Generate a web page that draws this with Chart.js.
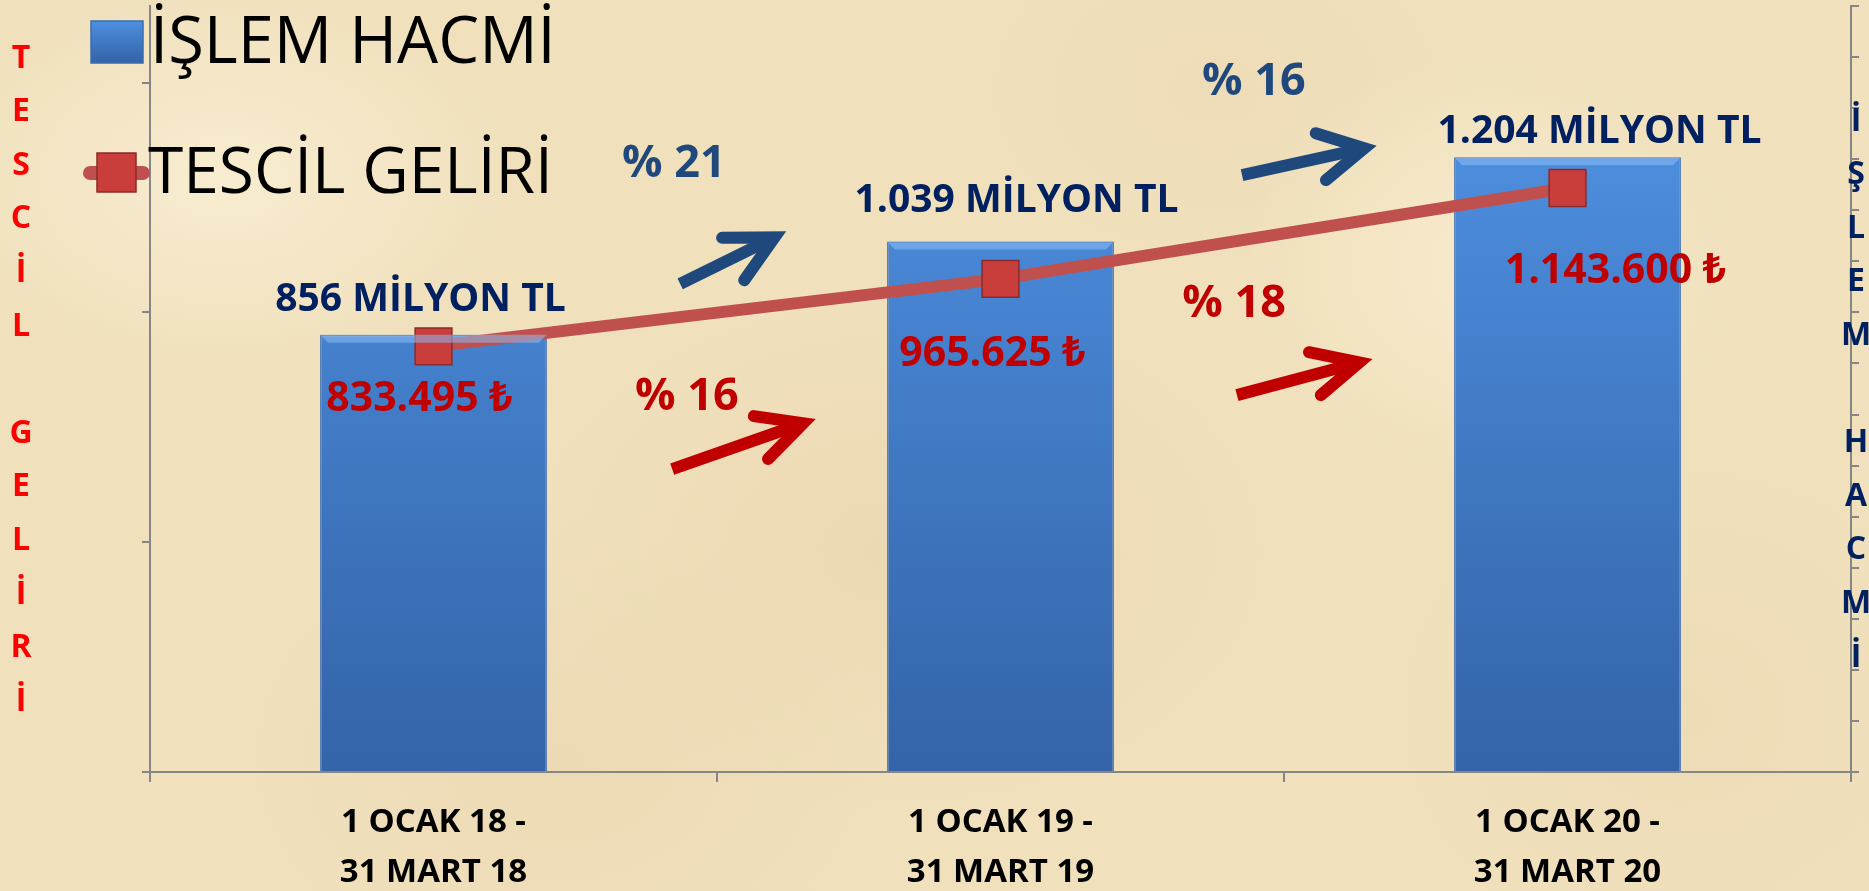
<!DOCTYPE html>
<html lang="tr">
<head>
<meta charset="utf-8">
<title>İşlem Hacmi ve Tescil Geliri</title>
<script src="https://cdn.jsdelivr.net/npm/chart.js@4.4.1/dist/chart.umd.min.js"></script>
<style>
    html, body { margin: 0; padding: 0; }
    body { background: #efdeb8; }
    #wrap {
        position: relative;
        width: 1869px;
        height: 891px;
        background-color: #f0e0bc;
        background-image:
            radial-gradient(ellipse 300px 200px at 12% 20%, rgba(255, 247, 226, 0.55), transparent),
            radial-gradient(ellipse 380px 260px at 48% 62%, rgba(226, 204, 160, 0.35), transparent),
            radial-gradient(ellipse 260px 220px at 80% 30%, rgba(255, 246, 222, 0.5), transparent),
            radial-gradient(ellipse 320px 240px at 30% 85%, rgba(228, 207, 165, 0.35), transparent),
            radial-gradient(ellipse 300px 260px at 90% 80%, rgba(230, 210, 168, 0.3), transparent),
            radial-gradient(ellipse 240px 180px at 65% 10%, rgba(232, 212, 172, 0.3), transparent);
    }
</style>
</head>
<body>
<div id="wrap"><canvas id="chart"></canvas></div>
<script>
// --- data ---
const periods = [['1 OCAK 18 -', '31 MART 18'], ['1 OCAK 19 -', '31 MART 19'], ['1 OCAK 20 -', '31 MART 20']];
const islemHacmi = [856, 1039, 1204];            // milyon TL
const tescilGeliri = [833495, 965625, 1143600];   // TL
const hacimArtis = [21, 16];                      // % change between periods
const gelirArtis = [16, 18];

// axis ranges (tick labels are hidden on the slide, only the marks show)
const gelirMax = 1500000, gelirStep = 450000;
const hacimMax = 1500, hacimStep = 100;

const NAVY = '#002060';
const BLUE_NOTE = '#1F497D';
const RED_NOTE = '#C00000';
const LINE_RED = '#C0504D';
const AXIS_GREY = '#868686';
const FONT = '"Open Sans", "Noto Sans", sans-serif';

// hand placed label shifts (px), like the moved labels in the original slide
const barLabelShift = [[-13, -24], [16, -29], [32, -14]];
const lineLabelShift = [[-14, 65], [-8, 87], [48, 95]];

// arrow + percent note placement in scale units (x: category index, y: right axis)
const hacimNotes = [
    { text: [0.424, 1165], tail: [0.435, 956], tip: [0.611, 1052], arms: [[0.509, 1046], [0.548, 963]] },
    { text: [1.447, 1326], tail: [1.426, 1169], tip: [1.652, 1224], arms: [[1.556, 1251], [1.574, 1159]] }
];
const gelirNotes = [
    { text: [0.447, 709], tail: [0.421, 593], tip: [0.662, 687], arms: [[0.565, 697], [0.590, 613]] },
    { text: [1.412, 891], tail: [1.417, 738], tip: [1.643, 805], arms: [[1.544, 822], [1.565, 738]] }
];

const fmt = v => v.toLocaleString('tr-TR');

function stepTicks(max, step) {
    const out = [];
    for (let v = 0; v <= max + 1e-9; v += step) out.push({ value: v });
    return out;
}

function drawText(ctx, str, x, y, font, color, align) {
    ctx.save();
    ctx.font = font;
    ctx.fillStyle = color;
    ctx.textAlign = align || 'center';
    ctx.textBaseline = 'alphabetic';
    ctx.fillText(str, x, y);
    ctx.restore();
}

function barGradient(ctx, top, bottom) {
    const g = ctx.createLinearGradient(0, top, 0, bottom);
    g.addColorStop(0, '#4d8fdf');
    g.addColorStop(1, '#3463a8');
    return g;
}

function drawArrow(ctx, pts, color) {
    const [tail, tip, a1, a2] = pts;
    ctx.save();
    ctx.strokeStyle = color;
    ctx.lineWidth = 12;
    // shaft stops a little short of the tip
    const dx = tip[0] - tail[0], dy = tip[1] - tail[1];
    const len = Math.hypot(dx, dy);
    ctx.lineCap = 'butt';
    ctx.beginPath();
    ctx.moveTo(tail[0], tail[1]);
    ctx.lineTo(tip[0] - dx / len * 10, tip[1] - dy / len * 10);
    ctx.stroke();
    // head
    const back = 6;
    const t = [tip[0] - dx / len * back, tip[1] - dy / len * back];
    ctx.lineCap = 'round';
    ctx.lineJoin = 'miter';
    ctx.miterLimit = 10;
    ctx.beginPath();
    ctx.moveTo(a1[0], a1[1]);
    ctx.lineTo(t[0], t[1]);
    ctx.lineTo(a2[0], a2[1]);
    ctx.stroke();
    ctx.restore();
}

const labelsPlugin = {
    id: 'labelsPlugin',
    afterDatasetsDraw(chart) {
        const ctx = chart.ctx;
        const x = chart.scales.x, y1 = chart.scales.y1;
        const at = p => [x.getPixelForValue(p[0]), y1.getPixelForValue(p[1])];

        // light top edge on the bars (bevel look)
        const bars = chart.getDatasetMeta(0).data;
        bars.forEach(bar => {
            const half = bar.width / 2;
            ctx.save();
            ctx.fillStyle = 'rgba(140, 190, 245, 0.55)';
            ctx.beginPath();
            ctx.moveTo(bar.x - half, bar.y);
            ctx.lineTo(bar.x + half, bar.y);
            ctx.lineTo(bar.x + half - 8, bar.y + 8);
            ctx.lineTo(bar.x - half + 8, bar.y + 8);
            ctx.closePath();
            ctx.fill();
            ctx.restore();
        });

        bars.forEach((bar, i) => {
            drawText(ctx, fmt(islemHacmi[i]) + ' MİLYON TL',
                bar.x + barLabelShift[i][0], bar.y + barLabelShift[i][1],
                'bold 39px ' + FONT, NAVY);
        });

        const points = chart.getDatasetMeta(1).data;
        points.forEach((pt, i) => {
            drawText(ctx, fmt(tescilGeliri[i]) + ' ₺',
                pt.x + lineLabelShift[i][0], pt.y + lineLabelShift[i][1],
                'bold 41px ' + FONT, RED_NOTE);
        });

        hacimNotes.forEach((n, i) => {
            const p = at(n.text);
            drawText(ctx, '% ' + hacimArtis[i], p[0], p[1], 'bold 45px ' + FONT, BLUE_NOTE);
            drawArrow(ctx, [at(n.tail), at(n.tip), at(n.arms[0]), at(n.arms[1])], BLUE_NOTE);
        });
        gelirNotes.forEach((n, i) => {
            const p = at(n.text);
            drawText(ctx, '% ' + gelirArtis[i], p[0], p[1], 'bold 45px ' + FONT, RED_NOTE);
            drawArrow(ctx, [at(n.tail), at(n.tip), at(n.arms[0]), at(n.arms[1])], RED_NOTE);
        });
    },
    afterDraw(chart) {
        const ctx = chart.ctx;
        const barSet = chart.data.datasets[0];
        const lineSet = chart.data.datasets[1];

        // legend (top left, over the plot)
        ctx.save();
        ctx.fillStyle = barGradient(ctx, 21, 63);
        ctx.fillRect(91, 21, 52, 42);
        ctx.strokeStyle = '#3a6cb0';
        ctx.lineWidth = 1.5;
        ctx.strokeRect(91, 21, 52, 42);

        ctx.strokeStyle = LINE_RED;
        ctx.lineWidth = 14;
        ctx.lineCap = 'round';
        ctx.beginPath();
        ctx.moveTo(90, 173);
        ctx.lineTo(143, 173);
        ctx.stroke();
        ctx.fillStyle = '#c93d3b';
        ctx.fillRect(97, 153, 39, 39);
        ctx.strokeStyle = '#8b2a2a';
        ctx.lineWidth = 1.5;
        ctx.strokeRect(97, 153, 39, 39);
        ctx.restore();
        drawText(ctx, barSet.label, 150, 63, '65px ' + FONT, '#000', 'left');
        drawText(ctx, lineSet.label, 148, 193, '64px ' + FONT, '#000', 'left');

        // stacked axis titles
        const stack = (str, cx, top, color) => {
            [...str].forEach((ch, i) => {
                if (ch !== ' ') drawText(ctx, ch, cx, top + i * 53.6 + 11.5, 'bold 32px ' + FONT, color);
            });
        };
        stack(lineSet.label, 21, 56, '#FF0000');
        stack(barSet.label, 1856, 119, NAVY);
    }
};

const ctx = document.getElementById('chart').getContext('2d');

new Chart(ctx, {
    data: {
        labels: periods,
        datasets: [{
            type: 'bar',
            label: 'İŞLEM HACMİ',
            data: islemHacmi,
            yAxisID: 'y1',
            order: 2,
            backgroundColor: c => {
                const area = c.chart.chartArea;
                if (!area) return '#3f79c6';
                return barGradient(c.chart.ctx, area.top + 120, area.bottom);
            },
            borderColor: '#3a6cb0',
            borderWidth: 1.5,
            barPercentage: 0.4,
            categoryPercentage: 1
        }, {
            type: 'line',
            label: 'TESCİL GELİRİ',
            data: tescilGeliri,
            yAxisID: 'y',
            order: 1,
            borderColor: LINE_RED,
            borderWidth: 12,
            tension: 0,
            pointStyle: 'rect',
            pointRadius: 26,
            pointBackgroundColor: '#c93d3b',
            pointBorderColor: '#8b2a2a',
            pointBorderWidth: 1.5
        }]
    },
    options: {
        responsive: true,
        maintainAspectRatio: false,
        animation: false,
        layout: { autoPadding: false, padding: { top: 6, left: 0, right: 0, bottom: 0 } },
        plugins: {
            legend: { display: false },
            tooltip: { enabled: false }
        },
        scales: {
            x: {
                type: 'category',
                offset: true,
                grid: { offset: true, drawOnChartArea: false, tickLength: 10, color: AXIS_GREY, lineWidth: 2 },
                border: { color: AXIS_GREY, width: 2 },
                ticks: {
                    color: '#000',
                    padding: 16,
                    maxRotation: 0,
                    font: { family: FONT, size: 33, weight: 'bold', lineHeight: 1.5 }
                },
                afterFit: s => { s.height = 119; }
            },
            y: {
                position: 'left',
                min: 0,
                max: gelirMax,
                grid: { drawOnChartArea: false, tickLength: 8, color: AXIS_GREY, lineWidth: 2 },
                border: { color: AXIS_GREY, width: 2 },
                ticks: { display: false },
                afterBuildTicks: s => { s.ticks = stepTicks(gelirMax, gelirStep); },
                afterFit: s => { s.width = 150; }
            },
            y1: {
                position: 'right',
                min: 0,
                max: hacimMax,
                grid: { drawOnChartArea: false, tickLength: 8, color: AXIS_GREY, lineWidth: 2 },
                border: { color: AXIS_GREY, width: 2 },
                ticks: { display: false },
                afterBuildTicks: s => { s.ticks = stepTicks(hacimMax, hacimStep); },
                afterFit: s => { s.width = 18; }
            }
        }
    },
    plugins: [labelsPlugin]
});
</script>
</body>
</html>
